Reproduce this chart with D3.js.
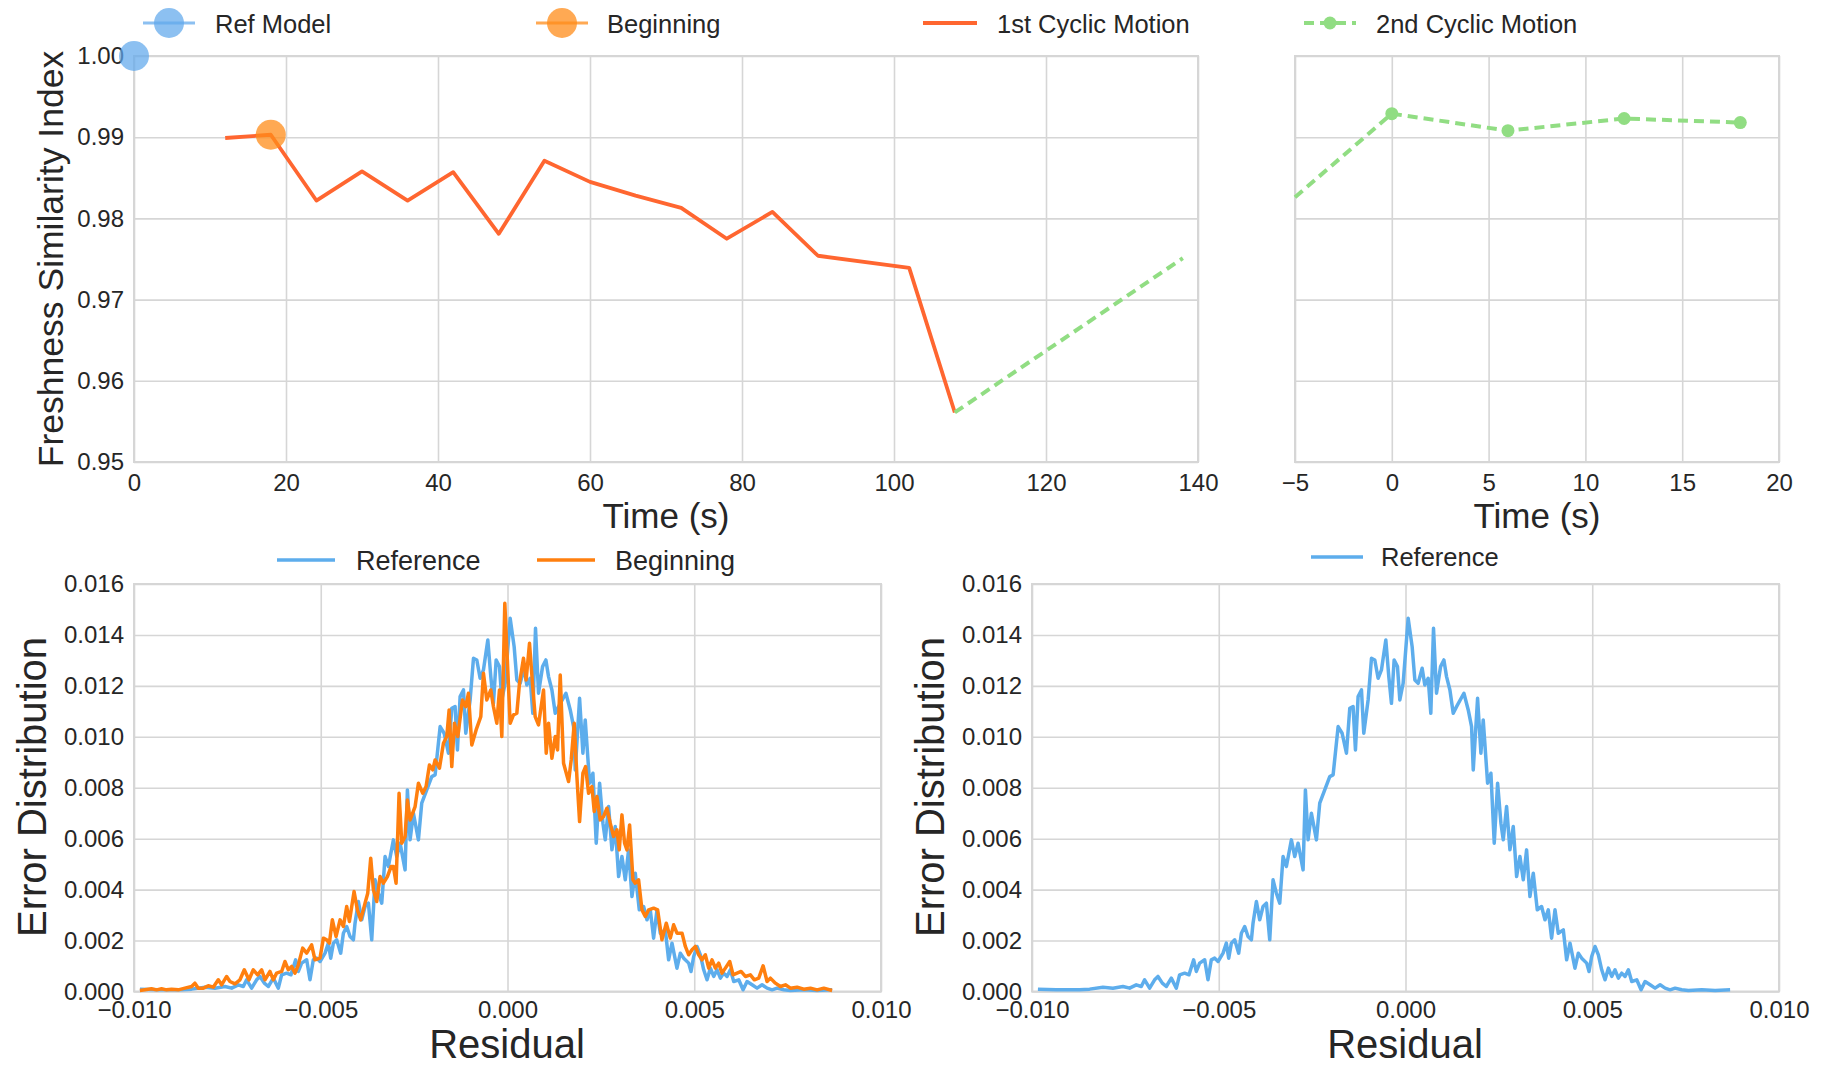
<!DOCTYPE html>
<html>
<head>
<meta charset="utf-8">
<script src="https://cdn.jsdelivr.net/npm/d3@7"></script>
<style>
  body { margin: 0; background: #fff; }
  text { font-family: "Liberation Sans", Arial, sans-serif; fill: #262626; }
  .axis line { stroke: #d6d6d6; stroke-width: 1.6; }
  .axis text { font-size: 24px; font-family: "Liberation Sans", Arial, sans-serif; fill: #262626; }
</style>
</head>
<body>
<script>
// freshness similarity, top row
const cycle1Time = [12, 18, 24, 30, 36, 42, 48, 54, 60, 66, 72, 78, 84, 90, 102, 108];
const cycle1Index = [0.9899, 0.9903, 0.9822, 0.9858, 0.9822, 0.9857, 0.9781, 0.9871, 0.9845, 0.9828, 0.9813, 0.9775, 0.9808, 0.9754, 0.9739, 0.9561];
const cycle2LeftTime = [108, 138];
const cycle2LeftIndex = [0.9561, 0.9751];
const cycle2Time = [-5, 0, 6, 12, 18];
const cycle2Index = [0.9826, 0.9929, 0.9908, 0.9923, 0.9918];
const refModelTime = [0];
const refModelIndex = [1.0];
const beginTime = [18];
const beginIndex = [0.9903];

// residual distributions, bottom row  [residual, density]
const referenceCurve = [
  [-0.009842, 0.000093], [-0.009351, 0.000067], [-0.008726, 0.000067], [-0.008458, 0.000093],
  [-0.008101, 0.000170], [-0.007833, 0.000131], [-0.007565, 0.000196], [-0.007386, 0.000131],
  [-0.007208, 0.000262], [-0.007074, 0.000196], [-0.006985, 0.000459], [-0.006851, 0.000131],
  [-0.006717, 0.000459], [-0.006627, 0.000590], [-0.006511, 0.000328], [-0.006404, 0.000196],
  [-0.006270, 0.000525], [-0.006136, 0.000131], [-0.006047, 0.000656], [-0.005913, 0.000721],
  [-0.005797, 0.000656], [-0.005672, 0.001244], [-0.005600, 0.000787], [-0.005511, 0.001114],
  [-0.005377, 0.001244], [-0.005288, 0.000459], [-0.005199, 0.001244], [-0.005109, 0.001310],
  [-0.005019, 0.001178], [-0.004885, 0.001505], [-0.004796, 0.001898], [-0.004733, 0.001309],
  [-0.004662, 0.001898], [-0.004573, 0.002029], [-0.004466, 0.001505], [-0.004394, 0.002290],
  [-0.004305, 0.002552], [-0.004216, 0.002160], [-0.004126, 0.002029], [-0.004082, 0.002683],
  [-0.003992, 0.003533], [-0.003903, 0.002814], [-0.003814, 0.003337], [-0.003724, 0.003468],
  [-0.003635, 0.002029], [-0.003546, 0.004384], [-0.003457, 0.003860], [-0.003367, 0.003468],
  [-0.003278, 0.005299], [-0.003189, 0.004907], [-0.003055, 0.005954], [-0.002965, 0.005299],
  [-0.002876, 0.005823], [-0.002742, 0.004776], [-0.002680, 0.007916], [-0.002608, 0.005954],
  [-0.002519, 0.007000], [-0.002385, 0.005954], [-0.002296, 0.007393], [-0.002162, 0.007916],
  [-0.002028, 0.008439], [-0.001938, 0.008505], [-0.001804, 0.010401], [-0.001697, 0.010140],
  [-0.001581, 0.009355], [-0.001492, 0.011121], [-0.001403, 0.011186], [-0.001340, 0.009486],
  [-0.001269, 0.011579], [-0.001179, 0.011841], [-0.001117, 0.010140], [-0.001001, 0.011448],
  [-0.000911, 0.013083], [-0.000822, 0.013018], [-0.000733, 0.012298], [-0.000644, 0.012625],
  [-0.000527, 0.013803], [-0.000447, 0.012364], [-0.000376, 0.011317], [-0.000304, 0.013018],
  [-0.000215, 0.012757], [-0.000152, 0.011448], [-0.000063, 0.012102], [0.000071, 0.014653],
  [0.000178, 0.013541], [0.000250, 0.012233], [0.000339, 0.012102], [0.000446, 0.012691],
  [0.000517, 0.012037], [0.000607, 0.012298], [0.000678, 0.010925], [0.000750, 0.014261],
  [0.000830, 0.011710], [0.000939, 0.012756], [0.001028, 0.013018], [0.001099, 0.012364],
  [0.001189, 0.011840], [0.001278, 0.010925], [0.001367, 0.011186], [0.001564, 0.011710],
  [0.001680, 0.011055], [0.001769, 0.010401], [0.001814, 0.008701], [0.001930, 0.011513],
  [0.002019, 0.009355], [0.002081, 0.010663], [0.002198, 0.008178], [0.002287, 0.008570],
  [0.002376, 0.005823], [0.002466, 0.008178], [0.002555, 0.006608], [0.002617, 0.005954],
  [0.002707, 0.007262], [0.002796, 0.005561], [0.002885, 0.006477], [0.002975, 0.004515],
  [0.003064, 0.005299], [0.003153, 0.004384], [0.003242, 0.005561], [0.003332, 0.003730],
  [0.003421, 0.004646], [0.003528, 0.003206], [0.003644, 0.003337], [0.003734, 0.002814],
  [0.003823, 0.003206], [0.003912, 0.002094], [0.004002, 0.003206], [0.004091, 0.002290],
  [0.004225, 0.002421], [0.004314, 0.001244], [0.004404, 0.001898], [0.004537, 0.000916],
  [0.004627, 0.001505], [0.004717, 0.001310], [0.004851, 0.001114], [0.004914, 0.000786],
  [0.004985, 0.001375], [0.005074, 0.001768], [0.005164, 0.001441], [0.005253, 0.000852],
  [0.005342, 0.000459], [0.005432, 0.000917], [0.005521, 0.000590], [0.005610, 0.000852],
  [0.005700, 0.000525], [0.005789, 0.000721], [0.005878, 0.000590], [0.005967, 0.000852],
  [0.006057, 0.000394], [0.006191, 0.000459], [0.006307, 0.000067], [0.006414, 0.000394],
  [0.006548, 0.000262], [0.006682, 0.000131], [0.006816, 0.000262], [0.006950, 0.000131],
  [0.007084, 0.000067], [0.007218, 0.000131], [0.007396, 0.000067], [0.007575, 0.000041],
  [0.007932, 0.000067], [0.008289, 0.000041], [0.008691, 0.000067]
];

const beginningCurve = [
  [-0.009842, 0.000039], [-0.009708, 0.000065], [-0.009530, 0.000105], [-0.009396, 0.000065],
  [-0.009262, 0.000105], [-0.009128, 0.000065], [-0.008994, 0.000092], [-0.008815, 0.000065],
  [-0.008637, 0.000131], [-0.008458, 0.000196], [-0.008369, 0.000327], [-0.008279, 0.000131],
  [-0.008146, 0.000131], [-0.008012, 0.000224], [-0.007878, 0.000170], [-0.007744, 0.000459],
  [-0.007654, 0.000262], [-0.007520, 0.000590], [-0.007431, 0.000394], [-0.007297, 0.000302],
  [-0.007163, 0.000459], [-0.007047, 0.000852], [-0.006922, 0.000459], [-0.006806, 0.000852],
  [-0.006690, 0.000656], [-0.006583, 0.000852], [-0.006493, 0.000459], [-0.006360, 0.000787],
  [-0.006270, 0.000459], [-0.006181, 0.000721], [-0.006047, 0.000787], [-0.005958, 0.001179],
  [-0.005868, 0.000852], [-0.005779, 0.000983], [-0.005690, 0.000721], [-0.005600, 0.001048],
  [-0.005484, 0.001702], [-0.005377, 0.001506], [-0.005244, 0.001833], [-0.005154, 0.001244],
  [-0.005020, 0.001310], [-0.004930, 0.002094], [-0.004841, 0.002029], [-0.004769, 0.001898],
  [-0.004689, 0.002814], [-0.004591, 0.002160], [-0.004483, 0.002814], [-0.004394, 0.002552],
  [-0.004305, 0.003337], [-0.004233, 0.002748], [-0.004108, 0.003926], [-0.004019, 0.003206],
  [-0.003930, 0.002814], [-0.003814, 0.003468], [-0.003742, 0.003860], [-0.003662, 0.005234],
  [-0.003590, 0.003991], [-0.003501, 0.003533], [-0.003412, 0.004514], [-0.003322, 0.004253],
  [-0.003215, 0.004514], [-0.003117, 0.004907], [-0.003055, 0.004907], [-0.002983, 0.004253],
  [-0.002903, 0.007785], [-0.002831, 0.005823], [-0.002742, 0.006085], [-0.002680, 0.007523],
  [-0.002608, 0.006738], [-0.002474, 0.007262], [-0.002385, 0.008177], [-0.002269, 0.007785],
  [-0.002180, 0.008047], [-0.002090, 0.008897], [-0.002001, 0.008701], [-0.001938, 0.009093],
  [-0.001822, 0.008766], [-0.001715, 0.009748], [-0.001626, 0.010009], [-0.001563, 0.011055],
  [-0.001492, 0.008832], [-0.001420, 0.010532], [-0.001331, 0.010009], [-0.001206, 0.011448],
  [-0.001117, 0.011186], [-0.001046, 0.011710], [-0.000956, 0.009682], [-0.000840, 0.010271],
  [-0.000715, 0.010794], [-0.000644, 0.012495], [-0.000554, 0.011448], [-0.000447, 0.011840],
  [-0.000376, 0.011186], [-0.000286, 0.010532], [-0.000215, 0.011840], [-0.000152, 0.010009],
  [-0.000072, 0.015242], [0.000071, 0.010532], [0.000160, 0.010859], [0.000250, 0.010925],
  [0.000321, 0.012102], [0.000428, 0.013083], [0.000499, 0.012233], [0.000589, 0.013672],
  [0.000669, 0.012102], [0.000741, 0.010794], [0.000830, 0.010467], [0.000965, 0.011840],
  [0.001037, 0.009355], [0.001099, 0.010532], [0.001189, 0.009159], [0.001278, 0.010009],
  [0.001340, 0.009486], [0.001412, 0.012429], [0.001501, 0.008963], [0.001635, 0.008243],
  [0.001706, 0.009093], [0.001787, 0.010532], [0.001858, 0.008439], [0.001930, 0.006673],
  [0.002019, 0.008570], [0.002090, 0.008832], [0.002171, 0.007785], [0.002260, 0.008047],
  [0.002323, 0.007066], [0.002394, 0.007654], [0.002483, 0.006738], [0.002573, 0.006869],
  [0.002662, 0.007196], [0.002751, 0.006608], [0.002841, 0.006085], [0.002930, 0.006346],
  [0.002992, 0.005561], [0.003064, 0.006935], [0.003135, 0.005823], [0.003198, 0.005561],
  [0.003269, 0.006542], [0.003359, 0.004384], [0.003421, 0.004253], [0.003510, 0.004384],
  [0.003600, 0.003206], [0.003689, 0.002945], [0.003778, 0.003206], [0.003912, 0.003272],
  [0.004019, 0.003206], [0.004135, 0.002029], [0.004251, 0.002683], [0.004359, 0.002094],
  [0.004448, 0.002618], [0.004537, 0.002290], [0.004627, 0.002290], [0.004673, 0.002291],
  [0.004762, 0.001768], [0.004851, 0.001441], [0.004940, 0.001637], [0.005030, 0.001768],
  [0.005119, 0.001441], [0.005208, 0.001244], [0.005298, 0.001441], [0.005387, 0.000917],
  [0.005476, 0.001244], [0.005566, 0.000917], [0.005655, 0.001114], [0.005744, 0.000721],
  [0.005833, 0.000917], [0.005950, 0.001179], [0.006039, 0.000656], [0.006146, 0.000721],
  [0.006253, 0.000787], [0.006369, 0.000590], [0.006503, 0.000656], [0.006610, 0.000459],
  [0.006726, 0.000525], [0.006843, 0.001009], [0.006950, 0.000394], [0.007039, 0.000525],
  [0.007173, 0.000328], [0.007307, 0.000196], [0.007441, 0.000262], [0.007575, 0.000131],
  [0.007753, 0.000170], [0.007932, 0.000092], [0.008111, 0.000131], [0.008289, 0.000065],
  [0.008468, 0.000131], [0.008691, 0.000039]
];

// ticks
const timeTicks = [0, 20, 40, 60, 80, 100, 120, 140];
const time2Ticks = [-5, 0, 5, 10, 15, 20];
const indexTicks = [0.95, 0.96, 0.97, 0.98, 0.99, 1.00];
const residualTicks = [-0.010, -0.005, 0.000, 0.005, 0.010];
const densityTicks = [0.000, 0.002, 0.004, 0.006, 0.008, 0.010, 0.012, 0.014, 0.016];

const colors = {
  ref: "#5fa8ec",
  begin: "#ff8c1a",
  cyc1: "#ff6630",
  cyc2: "#91dd83",
  refLine: "#5dadec",
  begLine: "#ff7f0e"
};

const svg = d3.select("body").append("svg").attr("width", 1824).attr("height", 1065);

function panel(box, xDomain, yDomain, xTicks, yTicks, xFmt, yFmt) {
  const x = d3.scaleLinear().domain(xDomain).range([box.left, box.right]);
  const y = d3.scaleLinear().domain(yDomain).range([box.bottom, box.top]);
  const w = box.right - box.left, h = box.bottom - box.top;
  const g = svg.append("g");

  g.append("g").attr("class", "axis")
    .attr("transform", `translate(0,${box.bottom})`)
    .call(d3.axisBottom(x).tickValues(xTicks).tickFormat(xFmt).tickSize(-h).tickPadding(box.xPad));
  g.append("g").attr("class", "axis")
    .attr("transform", `translate(${box.left},0)`)
    .call(d3.axisLeft(y).tickValues(yTicks).tickFormat(yFmt).tickSize(-w).tickPadding(box.yPad));
  g.selectAll(".domain").remove();

  g.append("rect")
    .attr("x", box.left).attr("y", box.top).attr("width", w).attr("height", h)
    .attr("fill", "none").attr("stroke", "#d6d6d6").attr("stroke-width", 2);
  return { x, y, g };
}

// ---------- top left ----------
const tl = panel({ left: 134, right: 1198, top: 56, bottom: 462, xPad: 12, yPad: 10 },
  [0, 140], [0.95, 1.0], timeTicks, indexTicks, d3.format("d"), d3.format(".2f"));

tl.g.append("path")
  .datum(d3.zip(cycle1Time, cycle1Index))
  .attr("fill", "none").attr("stroke", colors.cyc1).attr("stroke-width", 3.8)
  .attr("stroke-linejoin", "round")
  .attr("d", d3.line().x(d => tl.x(d[0])).y(d => tl.y(d[1])));

tl.g.append("path")
  .datum(d3.zip(cycle2LeftTime, cycle2LeftIndex))
  .attr("fill", "none").attr("stroke", colors.cyc2).attr("stroke-width", 4)
  .attr("stroke-dasharray", "10,6")
  .attr("d", d3.line().x(d => tl.x(d[0])).y(d => tl.y(d[1])));

tl.g.selectAll(".refdot").data(d3.zip(refModelTime, refModelIndex)).enter()
  .append("circle").attr("cx", d => tl.x(d[0])).attr("cy", d => tl.y(d[1]))
  .attr("r", 15).attr("fill", colors.ref).attr("fill-opacity", 0.72);

tl.g.selectAll(".begdot").data(d3.zip(beginTime, beginIndex)).enter()
  .append("circle").attr("cx", d => tl.x(d[0])).attr("cy", d => tl.y(d[1]))
  .attr("r", 15).attr("fill", colors.begin).attr("fill-opacity", 0.75);

svg.append("text").attr("transform", "translate(63,259) rotate(-90)")
  .attr("text-anchor", "middle").attr("font-size", 35.5).text("Freshness Similarity Index");
svg.append("text").attr("x", 666).attr("y", 528)
  .attr("text-anchor", "middle").attr("font-size", 35).text("Time (s)");

// ---------- top right ----------
const tr = panel({ left: 1295, right: 1779, top: 56, bottom: 462, xPad: 12, yPad: 10 },
  [-5, 20], [0.95, 1.0], time2Ticks, indexTicks, d3.format("d"), () => "");

const cyc2 = d3.zip(cycle2Time, cycle2Index);
tr.g.append("path")
  .datum(cyc2)
  .attr("fill", "none").attr("stroke", colors.cyc2).attr("stroke-width", 4)
  .attr("stroke-dasharray", "10,6")
  .attr("d", d3.line().x(d => tr.x(d[0])).y(d => tr.y(d[1])));
tr.g.selectAll(".c2dot").data(cyc2.filter(d => d[0] >= 0)).enter()
  .append("circle").attr("cx", d => tr.x(d[0])).attr("cy", d => tr.y(d[1]))
  .attr("r", 6.5).attr("fill", colors.cyc2);

svg.append("text").attr("x", 1537).attr("y", 528)
  .attr("text-anchor", "middle").attr("font-size", 35).text("Time (s)");

// top legend
const leg = svg.append("g");
const ly = 23;
leg.append("line").attr("x1", 143).attr("x2", 195).attr("y1", ly).attr("y2", ly)
  .attr("stroke", colors.ref).attr("stroke-opacity", 0.72).attr("stroke-width", 3);
leg.append("circle").attr("cx", 169).attr("cy", ly).attr("r", 15)
  .attr("fill", colors.ref).attr("fill-opacity", 0.72);
leg.append("text").attr("x", 215).attr("y", ly + 10).attr("font-size", 25.5).text("Ref Model");

leg.append("line").attr("x1", 536).attr("x2", 588).attr("y1", ly).attr("y2", ly)
  .attr("stroke", colors.begin).attr("stroke-opacity", 0.75).attr("stroke-width", 3);
leg.append("circle").attr("cx", 562).attr("cy", ly).attr("r", 15)
  .attr("fill", colors.begin).attr("fill-opacity", 0.75);
leg.append("text").attr("x", 607).attr("y", ly + 10).attr("font-size", 25.5).text("Beginning");

leg.append("line").attr("x1", 923).attr("x2", 977).attr("y1", ly).attr("y2", ly)
  .attr("stroke", colors.cyc1).attr("stroke-width", 3.8);
leg.append("text").attr("x", 997).attr("y", ly + 10).attr("font-size", 25.5).text("1st Cyclic Motion");

leg.append("line").attr("x1", 1304).attr("x2", 1356).attr("y1", ly).attr("y2", ly)
  .attr("stroke", colors.cyc2).attr("stroke-width", 4).attr("stroke-dasharray", "10,6");
leg.append("circle").attr("cx", 1330).attr("cy", ly).attr("r", 6.5).attr("fill", colors.cyc2);
leg.append("text").attr("x", 1376).attr("y", ly + 10).attr("font-size", 25.5).text("2nd Cyclic Motion");

// ---------- bottom left ----------
const bl = panel({ left: 134, right: 881, top: 584, bottom: 991.5, xPad: 9, yPad: 10 },
  [-0.01, 0.01], [0, 0.016], residualTicks, densityTicks, d3.format(".3f"), d3.format(".3f"));

bl.g.append("path").datum(referenceCurve)
  .attr("fill", "none").attr("stroke", colors.refLine).attr("stroke-width", 3.5)
  .attr("stroke-linejoin", "round")
  .attr("d", d3.line().x(d => bl.x(d[0])).y(d => bl.y(d[1])));
bl.g.append("path").datum(beginningCurve)
  .attr("fill", "none").attr("stroke", colors.begLine).attr("stroke-width", 3.5)
  .attr("stroke-linejoin", "round")
  .attr("d", d3.line().x(d => bl.x(d[0])).y(d => bl.y(d[1])));

svg.append("text").attr("transform", "translate(46,787) rotate(-90)")
  .attr("text-anchor", "middle").attr("font-size", 40).text("Error Distribution");
svg.append("text").attr("x", 507).attr("y", 1058)
  .attr("text-anchor", "middle").attr("font-size", 40).text("Residual");

const bleg = svg.append("g");
bleg.append("line").attr("x1", 277).attr("x2", 335).attr("y1", 560).attr("y2", 560)
  .attr("stroke", colors.refLine).attr("stroke-width", 3.5);
bleg.append("text").attr("x", 356).attr("y", 570).attr("font-size", 27).text("Reference");
bleg.append("line").attr("x1", 537).attr("x2", 595).attr("y1", 560).attr("y2", 560)
  .attr("stroke", colors.begLine).attr("stroke-width", 3.5);
bleg.append("text").attr("x", 615).attr("y", 570).attr("font-size", 27).text("Beginning");

// ---------- bottom right ----------
const br = panel({ left: 1032, right: 1779, top: 584, bottom: 991.5, xPad: 9, yPad: 10 },
  [-0.01, 0.01], [0, 0.016], residualTicks, densityTicks, d3.format(".3f"), d3.format(".3f"));

br.g.append("path").datum(referenceCurve)
  .attr("fill", "none").attr("stroke", colors.refLine).attr("stroke-width", 3.5)
  .attr("stroke-linejoin", "round")
  .attr("d", d3.line().x(d => br.x(d[0])).y(d => br.y(d[1])));

svg.append("text").attr("transform", "translate(944,787) rotate(-90)")
  .attr("text-anchor", "middle").attr("font-size", 40).text("Error Distribution");
svg.append("text").attr("x", 1405).attr("y", 1058)
  .attr("text-anchor", "middle").attr("font-size", 40).text("Residual");

const rleg = svg.append("g");
rleg.append("line").attr("x1", 1311).attr("x2", 1363).attr("y1", 557).attr("y2", 557)
  .attr("stroke", colors.refLine).attr("stroke-width", 3.5);
rleg.append("text").attr("x", 1381).attr("y", 566).attr("font-size", 25.5).text("Reference");
</script>
</body>
</html>
